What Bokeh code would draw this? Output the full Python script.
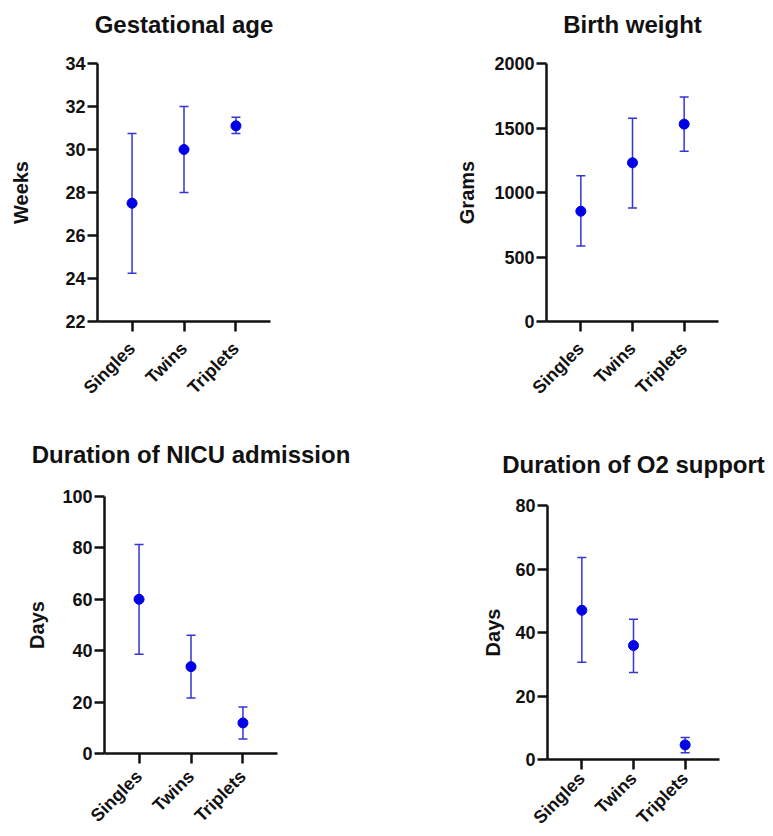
from bokeh.plotting import figure
from bokeh.layouts import column, row
from bokeh.models import (ColumnDataSource, Whisker, FactorRange, Range1d, FixedTicker,
                          TeeHead, Spacer, LinearAxis)
from bokeh.embed import file_html
from bokeh.resources import INLINE

groups = ["Singles", "Twins", "Triplets"]

ga_mean = [27.5, 30.0, 31.1]
ga_lo = [24.25, 28.0, 30.75]
ga_hi = [30.75, 32.0, 31.5]

bw_mean = [855, 1230, 1530]
bw_lo = [585, 880, 1320]
bw_hi = [1130, 1575, 1740]

nicu_mean = [60.0, 33.8, 11.9]
nicu_lo = [38.6, 21.6, 5.6]
nicu_hi = [81.3, 46.0, 18.1]

o2_mean = [47.0, 35.9, 4.6]
o2_lo = [30.6, 27.4, 2.1]
o2_hi = [63.6, 44.2, 6.9]

FONT = "Liberation Sans"
BAR_COLOR = "#3535d0"
DOT_COLOR = "#0000e6"


def panel(title, ylabel, mean, lo, hi, y0, y1, ticks,
          bl, bt, br, bb, fw, fh, lab_standoff, title_standoff, xlab_standoff):
    src = ColumnDataSource(dict(x=groups, m=mean, lo=lo, hi=hi))
    p = figure(x_range=FactorRange(*groups, range_padding=0.11),
               y_range=Range1d(y0, y1),
               frame_width=fw, frame_height=fh,
               min_border_left=bl, min_border_top=bt,
               min_border_right=br, min_border_bottom=bb,
               output_backend="svg", toolbar_location=None)
    p.outline_line_color = None
    p.xgrid.visible = False
    p.ygrid.visible = False
    p.background_fill_color = "white"
    p.border_fill_color = "white"

    bax = p.below[0]
    lax = p.left[0]

    # panel title, drawn as the label of a bare axis above the frame
    tax = LinearAxis(ticker=FixedTicker(ticks=[]), axis_label=title,
                     axis_line_color=None, major_tick_line_color=None,
                     minor_tick_line_color=None, major_tick_out=10, major_tick_in=0,
                     minor_tick_out=0, major_label_standoff=2,
                     major_label_text_font=FONT, major_label_text_font_size="18px",
                     axis_label_standoff=title_standoff,
                     axis_label_text_font=FONT, axis_label_text_font_size="24px",
                     axis_label_text_font_style="bold", axis_label_text_color="#111111")
    p.add_layout(tax, "above")

    for ax in (bax, lax):
        ax.axis_line_width = 2.5
        ax.axis_line_color = "#111111"
        ax.major_tick_line_width = 2.5
        ax.major_tick_line_color = "#111111"
        ax.major_tick_out = 10
        ax.major_tick_in = 0
        ax.minor_tick_line_color = None
        ax.major_label_text_font = FONT
        ax.major_label_text_font_size = "18px"
        ax.major_label_text_font_style = "bold"
        ax.major_label_text_color = "#111111"
        ax.major_label_standoff = 2

    lax.ticker = FixedTicker(ticks=ticks)
    lax.axis_label = ylabel
    lax.axis_label_text_font = FONT
    lax.axis_label_text_font_size = "20px"
    lax.axis_label_text_font_style = "bold"
    lax.axis_label_text_color = "#111111"
    lax.axis_label_standoff = lab_standoff

    bax.major_label_orientation = 0.785398
    bax.major_label_standoff = xlab_standoff

    w = Whisker(base="x", upper="hi", lower="lo", source=src,
                line_color=BAR_COLOR, line_width=1.5,
                upper_head=TeeHead(size=9, line_color=BAR_COLOR, line_width=1.5),
                lower_head=TeeHead(size=9, line_color=BAR_COLOR, line_width=1.5))
    p.add_layout(w)
    p.scatter(x="x", y="m", source=src, size=10, color=DOT_COLOR)
    return p


p1 = panel("Gestational age", "Weeks", ga_mean, ga_lo, ga_hi, 22, 34,
           [22, 24, 26, 28, 30, 32, 34], 97, 63, 168, 95, 173, 258, 30, 26, 14)
p2 = panel("Birth weight", "Grams", bw_mean, bw_lo, bw_hi, 0, 2000,
           [0, 500, 1000, 1500, 2000], 108, 63, 52, 95, 172, 258, 13, 26, 14)
p3 = panel("Duration of NICU admission", "Days", nicu_mean, nicu_lo, nicu_hi, 0, 100,
           [0, 20, 40, 60, 80, 100], 104, 80, 161, 80, 173, 257, 11, 29, 10)
p4 = panel("Duration of O2 support", "Days", o2_mean, o2_lo, o2_hi, 0, 80,
           [0, 20, 40, 60, 80], 109, 76, 52, 70, 172, 254, 8, 28, 6)

layout = column(row(p1, p2), row(p3, column(Spacer(width=10, height=13), p4)))

open("out.html", "w").write(file_html(layout, INLINE))
